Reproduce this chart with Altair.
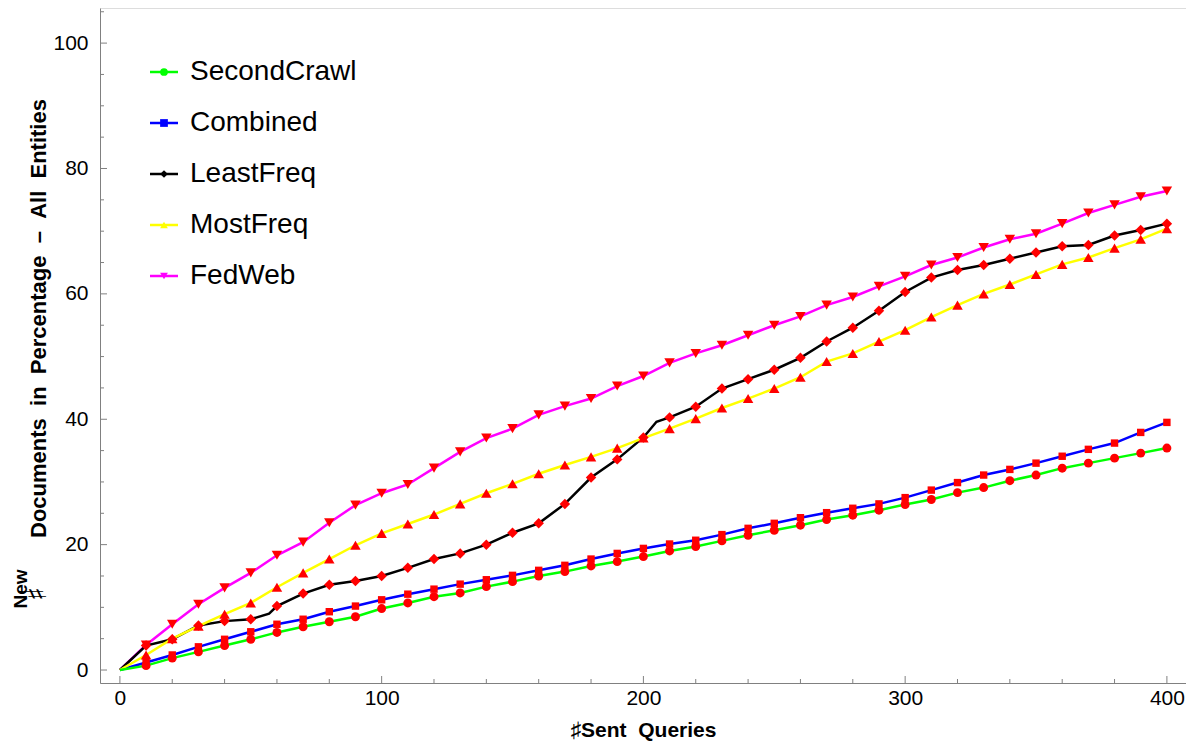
import altair as alt
import pandas as pd

# ---------------- data ----------------
queries = list(range(10, 401, 10))

second_crawl = [0.7, 1.9, 2.9, 3.9, 4.9, 6.0, 6.9, 7.7, 8.5, 9.8,
                10.7, 11.7, 12.3, 13.3, 14.1, 15.0, 15.7, 16.6, 17.3, 18.1,
                19.0, 19.7, 20.6, 21.5, 22.3, 23.1, 24.0, 24.7, 25.5, 26.4,
                27.2, 28.3, 29.1, 30.2, 31.1, 32.2, 33.0, 33.8, 34.6, 35.4]
combined = [1.2, 2.4, 3.7, 4.9, 6.1, 7.3, 8.1, 9.3, 10.2, 11.2,
            12.1, 12.9, 13.7, 14.4, 15.1, 15.9, 16.7, 17.7, 18.6, 19.4,
            20.1, 20.7, 21.6, 22.6, 23.4, 24.3, 25.1, 25.8, 26.5, 27.5,
            28.7, 29.9, 31.1, 32.0, 33.0, 34.1, 35.2, 36.2, 37.9, 39.5]
least_freq = [3.9, 4.9, 7.1, 7.8, 8.1, 10.2, 12.2, 13.6, 14.2, 15.0,
              16.3, 17.7, 18.6, 20.0, 21.9, 23.4, 26.5, 30.7, 33.6, 37.1,
              40.3, 42.0, 44.9, 46.4, 47.9, 49.8, 52.4, 54.6, 57.3, 60.3,
              62.6, 63.8, 64.6, 65.6, 66.6, 67.6, 67.8, 69.3, 70.2, 71.2]
most_freq = [2.4, 5.0, 7.0, 8.9, 10.7, 13.2, 15.5, 17.7, 19.9, 21.8,
             23.3, 24.8, 26.5, 28.2, 29.7, 31.3, 32.7, 34.0, 35.4, 37.0,
             38.5, 40.1, 41.8, 43.3, 44.9, 46.7, 49.2, 50.5, 52.4, 54.2,
             56.3, 58.2, 60.0, 61.5, 63.1, 64.7, 65.8, 67.3, 68.7, 70.4]
fed_web = [4.0, 7.3, 10.5, 13.1, 15.5, 18.3, 20.4, 23.5, 26.3, 28.2,
           29.6, 32.2, 34.8, 37.0, 38.5, 40.7, 42.1, 43.3, 45.3, 46.9,
           49.0, 50.5, 51.8, 53.4, 55.0, 56.4, 58.2, 59.5, 61.2, 62.8,
           64.6, 65.8, 67.4, 68.7, 69.6, 71.2, 72.9, 74.2, 75.5, 76.4]

# extra points of the LeastFreq line (steps visible between markers)
least_freq_extra_q = [57, 205]
least_freq_extra_v = [9.0, 39.6]

start_q = 0
start_v = 0.0

series_names = ["SecondCrawl", "Combined", "LeastFreq", "MostFreq", "FedWeb"]
series_values = [second_crawl, combined, least_freq, most_freq, fed_web]

x_major = [0, 100, 200, 300, 400]
x_minor = [q for q in range(20, 401, 20) if q % 100 != 0]
y_major = [0, 20, 40, 60, 80, 100]
y_minor = [v for v in range(5, 106, 5) if v % 20 != 0]

# ---------------- styles ----------------
series_colors = ["#00FF00", "#0000FF", "#000000", "#FFFF00", "#FF00FF"]
series_shapes = ["circle", "square", "diamond", "triangle-up", "triangle-down"]
marker_sizes = [80, 55, 110, 110, 110]
FONT = "Liberation Sans"
AXIS_GREY = "#808080"

W, H = 1086, 675
x_scale = alt.Scale(domain=[-7.6, 407.3], nice=False, zero=False)
y_scale = alt.Scale(domain=[-2.07, 105.6], nice=False, zero=False)

# ---------------- tables ----------------
marker_rows = []
line_rows = []
for name, vals in zip(series_names, series_values):
    line_rows.append({"series": name, "q": start_q, "v": start_v})
    for q, v in zip(queries, vals):
        marker_rows.append({"series": name, "q": q, "v": v})
        line_rows.append({"series": name, "q": q, "v": v})
    if name == "LeastFreq":
        for q, v in zip(least_freq_extra_q, least_freq_extra_v):
            line_rows.append({"series": name, "q": q, "v": v})
markers_df = pd.DataFrame(marker_rows)
lines_df = pd.DataFrame(line_rows).sort_values(["series", "q"])

x_axis = alt.Axis(values=x_major, ticks=False, grid=False, domainColor=AXIS_GREY,
                  labelFontSize=21, labelColor="black", labelFont=FONT, labelPadding=4,
                  title="\u266fSent\u00a0\u00a0Queries", titleFontSize=21, titleFontWeight="bold",
                  titleColor="black", titleFont=FONT, titleY=47, titleBaseline="middle")
y_axis = alt.Axis(values=y_major, ticks=False, grid=False, domainColor=AXIS_GREY,
                  labelFontSize=21, labelColor="black", labelFont=FONT, labelPadding=12,
                  title="Documents\u00a0\u00a0in\u00a0\u00a0Percentage\u00a0\u00a0\u2013\u00a0\u00a0All\u00a0\u00a0Entities",
                  titleFontSize=22, titleFontWeight="bold", titleColor="black", titleFont=FONT,
                  titleAngle=270, titleX=-62, titleY=310, titleAlign="center", titleBaseline="middle")

color_enc = alt.Color("series:N", scale=alt.Scale(domain=series_names, range=series_colors), legend=None)
shape_enc = alt.Shape("series:N", scale=alt.Scale(domain=series_names, range=series_shapes), legend=None)

lines = alt.Chart(lines_df).mark_line(strokeWidth=2.5).encode(
    x=alt.X("q:Q", scale=x_scale, axis=x_axis),
    y=alt.Y("v:Q", scale=y_scale, axis=y_axis),
    color=color_enc,
    order=alt.Order("q:Q"),
)

# one marker layer per series, each with its own marker size
marker_layers = []
for name, msize in zip(series_names, marker_sizes):
    marker_layers.append(
        alt.Chart(markers_df).transform_filter(alt.datum.series == name)
        .mark_point(filled=True, color="#FF0000", opacity=1, strokeWidth=0, size=msize)
        .encode(
            x=alt.X("q:Q", scale=x_scale, axis=x_axis),
            y=alt.Y("v:Q", scale=y_scale, axis=None),
            shape=shape_enc,
        )
    )

# inward ticks
xt_major = alt.Chart(pd.DataFrame({"t": x_major})).mark_rule(color=AXIS_GREY, strokeWidth=1).encode(
    x=alt.X("t:Q", scale=x_scale, axis=x_axis), y=alt.value(H), y2=alt.value(H - 7))
xt_minor = alt.Chart(pd.DataFrame({"t": x_minor})).mark_rule(color=AXIS_GREY, strokeWidth=1).encode(
    x=alt.X("t:Q", scale=x_scale, axis=x_axis), y=alt.value(H), y2=alt.value(H - 4))
yt_major = alt.Chart(pd.DataFrame({"t": y_major})).mark_rule(color=AXIS_GREY, strokeWidth=1).encode(
    y=alt.Y("t:Q", scale=y_scale, axis=None), x=alt.value(0), x2=alt.value(7))
yt_minor = alt.Chart(pd.DataFrame({"t": y_minor})).mark_rule(color=AXIS_GREY, strokeWidth=1).encode(
    y=alt.Y("t:Q", scale=y_scale, axis=None), x=alt.value(0), x2=alt.value(4))

# legend inside the plot
legend_df = pd.DataFrame({"series": series_names})
leg_y = alt.Y("series:N", scale=alt.Scale(type="point", domain=series_names, range=[64, 268], padding=0), axis=None)
leg_rule = alt.Chart(legend_df).mark_rule(strokeWidth=2.5).encode(
    x=alt.value(50), x2=alt.value(78), y=leg_y, color=color_enc)
leg_pt = alt.Chart(legend_df).mark_point(filled=True, opacity=1, size=60, strokeWidth=0).encode(
    x=alt.value(64), y=leg_y, shape=shape_enc, color=color_enc)
leg_txt = alt.Chart(legend_df).mark_text(align="left", baseline="middle", fontSize=28,
                                         font=FONT, color="black").encode(
    x=alt.value(90), y=leg_y, text="series:N")

# extra pieces of the y title
title_parts = pd.DataFrame({"label": ["New"]})
new_txt = alt.Chart(title_parts).mark_text(angle=270, fontSize=19, fontWeight="bold", font=FONT,
                                           color="black", align="center", baseline="middle").encode(
    x=alt.value(-79), y=alt.value(581), text="label:N")
sharp_parts = pd.DataFrame({"label": ["\u266f"]})
sharp_txt = alt.Chart(sharp_parts).mark_text(angle=270, fontSize=28, fontWeight="bold", font="DejaVu Sans",
                                             color="black", align="center", baseline="middle").encode(
    x=alt.value(-62), y=alt.value(586), text="label:N")

chart = alt.layer(
    xt_major, xt_minor, yt_major, yt_minor, lines, *marker_layers, leg_rule, leg_pt, leg_txt, new_txt, sharp_txt
).resolve_scale(y="independent").properties(
    width=W, height=H,
    autosize=alt.AutoSizeParams(type="none"),
    padding={"left": 92, "top": 0, "right": 0, "bottom": 59},
).configure_view(stroke="transparent").configure(font=FONT)

chart.save("out.html", embed_options={"renderer": "svg", "actions": False})
